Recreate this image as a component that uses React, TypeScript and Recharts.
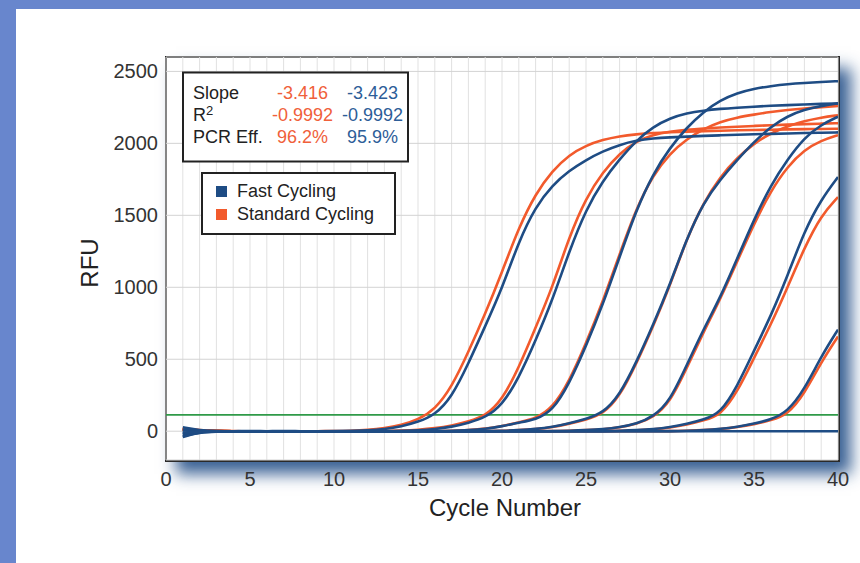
import React from 'react';
import { LineChart, Line, XAxis, YAxis, CartesianGrid, ReferenceLine, Legend } from 'recharts';

// ---- data ----
const cycles = [1, 2, 3, 4, 5, 6, 7, 8, 9, 10, 11, 12, 13, 14, 15, 16, 17, 18, 19, 20, 21, 22, 23, 24, 25, 26, 27, 28, 29, 30, 31, 32, 33, 34, 35, 36, 37, 38, 39, 40];

// Fast Cycling (blue)
const fastNtc = [-40, -6, -2, 0, 0, 0, 0, 0, 0, 0, 0, 0, 0, 0, 0, 0, 0, 0, 0, 0, 0, 0, 0, 0, 0, 0, 0, 0, 0, 0, 0, 0, 0, 0, 0, 0, 0, 0, 0, 0];
const fast1 = [-35, -8, -3, -1, 0, 0, -1, 0, 0, 1, 2, 5, 14, 32, 64, 113, 235, 470, 730, 990, 1320, 1560, 1710, 1810, 1885, 1945, 1990, 2020, 2035, 2042, 2047, 2052, 2056, 2060, 2063, 2066, 2069, 2072, 2074, 2076];
const fast2 = [28, 6, 1, 0, 0, -1, 0, 0, 0, 0, 0, -1, 0, 2, 6, 14, 30, 58, 95, 180, 370, 630, 910, 1250, 1540, 1740, 1890, 2020, 2115, 2175, 2210, 2228, 2240, 2248, 2255, 2261, 2266, 2270, 2274, 2278];
const fast3 = [-22, -4, 0, 0, 1, 0, 0, -1, 0, 0, 0, 0, 0, 0, 0, 0, 3, 7, 16, 34, 60, 80, 140, 330, 590, 880, 1210, 1540, 1790, 1970, 2110, 2220, 2300, 2350, 2380, 2398, 2412, 2420, 2426, 2432];
const fast4 = [12, 3, 0, 0, 0, 0, 1, 0, 0, 0, 0, 0, 0, 0, 0, 0, 0, 0, 1, 3, 7, 15, 30, 55, 85, 125, 250, 480, 740, 1020, 1340, 1590, 1750, 1885, 2010, 2115, 2190, 2235, 2260, 2278];
const fast5 = [-15, -3, 0, 0, 0, 0, 0, 0, 0, 0, 0, 0, 0, 0, 0, 0, 0, 0, 0, 0, 0, 0, 1, 3, 7, 14, 28, 52, 100, 210, 460, 710, 930, 1200, 1470, 1710, 1890, 2040, 2130, 2185];
const fast6 = [6, 1, 0, 0, 0, 0, 0, 0, 0, 0, 0, 0, 0, 0, 0, 0, 0, 0, 0, 0, 0, 0, 0, 0, 0, 0, 3, 7, 14, 28, 50, 80, 125, 310, 560, 800, 1080, 1390, 1610, 1766];
const fast7 = [-10, -2, 0, 0, 0, 0, 0, 0, 0, 0, 0, 0, 0, 0, 0, 0, 0, 0, 0, 0, 0, 0, 0, 0, 0, 0, 0, 0, 0, 0, 3, 8, 16, 30, 52, 80, 135, 290, 520, 706];

// Standard Cycling (orange)
const std1 = [18, 6, 2, 0, 0, -2, -3, -2, 0, 1, 3, 8, 20, 42, 80, 150, 305, 550, 815, 1105, 1415, 1650, 1810, 1920, 1985, 2025, 2050, 2063, 2072, 2078, 2082, 2085, 2088, 2091, 2093, 2095, 2097, 2099, 2100, 2102];
const std2 = [15, 5, 1, 0, 0, -1, -2, -2, -1, 0, 0, 0, 1, 4, 10, 20, 38, 68, 105, 215, 440, 720, 1000, 1350, 1620, 1800, 1930, 2015, 2060, 2083, 2095, 2103, 2110, 2116, 2121, 2126, 2130, 2134, 2137, 2140];
const std3 = [12, 4, 0, 0, 0, 0, 0, 0, 0, 0, 0, 0, 0, 0, 0, 0, 3, 8, 17, 35, 62, 88, 160, 345, 610, 900, 1230, 1550, 1780, 1930, 2030, 2100, 2150, 2180, 2200, 2218, 2232, 2243, 2252, 2260];
const std4 = [10, 3, 0, 0, 0, 0, 0, 0, 0, 0, 0, 0, 0, 0, 0, 0, 0, 0, 0, 3, 7, 14, 28, 52, 80, 118, 240, 470, 730, 1010, 1340, 1590, 1770, 1900, 2000, 2070, 2120, 2155, 2180, 2195];
const std5 = [14, 4, 0, 0, 0, 0, 0, 0, 0, 0, 0, 0, 0, 0, 0, 0, 0, 0, 0, 0, 0, 0, 0, 3, 7, 13, 26, 50, 95, 200, 440, 690, 920, 1180, 1440, 1670, 1840, 1955, 2020, 2057];
const std6 = [16, 5, 0, 0, 0, 0, 0, 0, 0, 0, 0, 0, 0, 0, 0, 0, 0, 0, 0, 0, 0, 0, 0, 0, 0, 0, 3, 6, 13, 25, 45, 75, 110, 270, 510, 740, 1000, 1275, 1500, 1627];
const std7 = [13, 4, 0, 0, 0, 0, 0, 0, 0, 0, 0, 0, 0, 0, 0, 0, 0, 0, 0, 0, 0, 0, 0, 0, 0, 0, 0, 0, 0, 0, 3, 7, 14, 28, 48, 75, 115, 260, 480, 658];

const threshold = 113;
const xTicks = [0, 1, 2, 3, 4, 5, 6, 7, 8, 9, 10, 11, 12, 13, 14, 15, 16, 17, 18, 19, 20, 21, 22, 23, 24, 25, 26, 27, 28, 29, 30, 31, 32, 33, 34, 35, 36, 37, 38, 39, 40];
const xLabelTicks = [0, 5, 10, 15, 20, 25, 30, 35, 40];
const yTicks = [0, 500, 1000, 1500, 2000, 2500];

const statLabels = ['Slope', 'R', 'PCR Eff.'];
const statStandard = ['-3.416', '-0.9992', '96.2%'];
const statFast = ['-3.423', '-0.9992', '95.9%'];
const legendLabels = ['Fast Cycling', 'Standard Cycling'];

const BLUE = '#1e4c84';
const ORANGE = '#f25a2c';
const STAT_ORANGE = '#f0603a';
const STAT_BLUE = '#2d5d98';
const FRAME = '#6886cd';
const FONT = '"Liberation Sans", Arial, Helvetica, sans-serif';

const stdSeries = [std1, std2, std3, std4, std5, std6, std7];
const fastSeries = [fastNtc, fast1, fast2, fast3, fast4, fast5, fast6, fast7];

const data = cycles.map((c, i) => {
  const row: Record<string, number> = { cycle: c };
  stdSeries.forEach((s, j) => { row['s' + j] = s[i]; });
  fastSeries.forEach((s, j) => { row['f' + j] = s[i]; });
  return row;
});

const renderLegend = () => (
  <svg width={196} height={63} style={{ display: 'block', fontFamily: FONT }}>
    <rect x={1} y={1} width={193} height={61} fill="#fff" stroke="#222" strokeWidth={2} />
    <rect x={15} y={14} width={11} height={11} fill={BLUE} />
    <text x={36} y={25} fontSize={18} fill="#222">{legendLabels[0]}</text>
    <rect x={15} y={37} width={11} height={11} fill={ORANGE} />
    <text x={36} y={48} fontSize={18} fill="#222">{legendLabels[1]}</text>
  </svg>
);

export default function App() {
  return (
    <div style={{ position: 'absolute', left: 0, top: 0, width: 860, height: 563, background: '#fff', overflow: 'hidden', fontFamily: FONT }}>
      <div style={{ position: 'absolute', left: 0, top: 0, width: 16, height: 563, background: FRAME }} />
      <div style={{ position: 'absolute', left: 0, top: 0, width: 860, height: 9, background: FRAME }} />
      <div style={{ position: 'absolute', left: 165, top: 56, width: 675, height: 406, boxSizing: 'border-box', border: '2px solid #2a2a2a', background: '#fff', boxShadow: '11px 12px 15px rgba(25,70,130,0.85)' }} />
      <LineChart width={860} height={563} data={data} margin={{ top: 57, right: 22, bottom: 73, left: 96 }} style={{ fontFamily: FONT }}>
        <CartesianGrid vertical={true} horizontal={false} stroke="#e1e1e1" strokeWidth={1} />
        <CartesianGrid vertical={false} horizontal={true} stroke="#d3d3d3" strokeWidth={1} />
        <XAxis
          dataKey="cycle"
          type="number"
          domain={[0, 40]}
          ticks={xTicks}
          interval={0}
          allowDataOverflow
          axisLine={false}
          tickLine={false}
          tickMargin={6}
          height={30}
          tick={{ fontSize: 20, fill: '#333' }}
          tickFormatter={(v: number) => (xLabelTicks.includes(v) ? String(v) : '')}
        />
        <YAxis
          type="number"
          domain={[-200, 2600]}
          ticks={yTicks}
          interval={0}
          allowDataOverflow
          axisLine={false}
          tickLine={false}
          width={70}
          tick={{ fontSize: 20, fill: '#333' }}
        />
        <ReferenceLine y={threshold} stroke="#2f9a48" strokeWidth={1.8} />
        {stdSeries.map((_, j) => (
          <Line key={'s' + j} dataKey={'s' + j} type="basis" stroke={ORANGE} strokeWidth={2.6} dot={false} isAnimationActive={false} />
        ))}
        {fastSeries.map((_, j) => (
          <Line key={'f' + j} dataKey={'f' + j} type="basis" stroke={BLUE} strokeWidth={2.6} dot={false} isAnimationActive={false} />
        ))}
        <Legend
          layout="horizontal"
          verticalAlign="middle"
          align="center"
          content={renderLegend}
          wrapperStyle={{ left: 201, top: 172, width: 196, height: 63 }}
        />
      </LineChart>
      <svg width={860} height={563} style={{ position: 'absolute', left: 0, top: 0, pointerEvents: 'none', fontFamily: FONT }}>
        <rect x={183} y={72.5} width={225} height={89} fill="#fff" stroke="#222" strokeWidth={2} />
        {statLabels.map((lab, i) => (
          <text key={'l' + i} x={193} y={99 + i * 22} fontSize={18} fill="#222">
            {lab}
            {i === 1 ? <tspan fontSize={13} dy={-6}>2</tspan> : null}
          </text>
        ))}
        {statStandard.map((v, i) => (
          <text key={'o' + i} x={i === 1 ? 272 : 277} y={99 + i * 22} fontSize={18} fill={STAT_ORANGE}>{v}</text>
        ))}
        {statFast.map((v, i) => (
          <text key={'b' + i} x={i === 1 ? 342 : 347} y={99 + i * 22} fontSize={18} fill={STAT_BLUE}>{v}</text>
        ))}
        <text x={505} y={516} fontSize={24} fill="#222" textAnchor="middle">Cycle Number</text>
        <text transform="translate(98,263) rotate(-90)" fontSize={24} fill="#222" textAnchor="middle">RFU</text>
      </svg>
    </div>
  );
}
